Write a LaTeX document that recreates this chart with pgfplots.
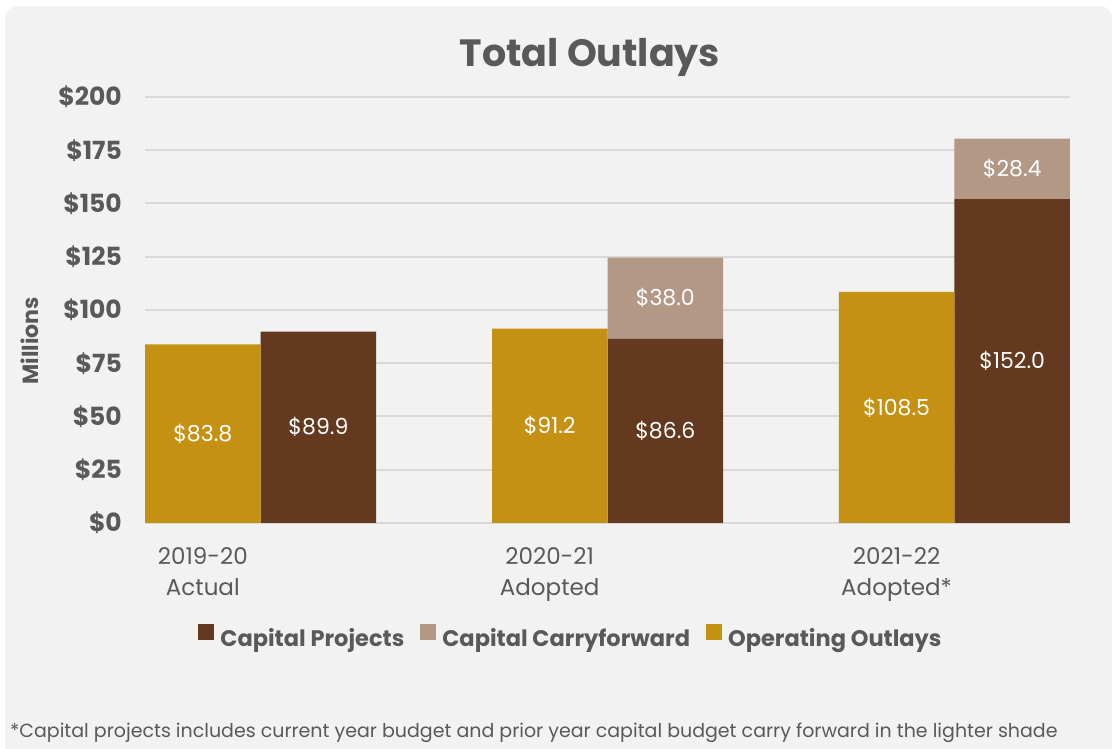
\documentclass[border=0pt]{standalone}
\usepackage{pgfplots}
\pgfplotsset{compat=1.18}
\usepackage{fontspec}
\setmainfont{Poppins}
\definecolor{gold}{HTML}{C59112}
\definecolor{dbrown}{HTML}{633A1F}
\definecolor{lbrown}{HTML}{B39886}
\definecolor{txt}{HTML}{595959}
\definecolor{gridc}{HTML}{D9D9D9}
\definecolor{bgc}{HTML}{F2F2F2}
\pgfplotsset{sqlegend/.style={legend image code/.code={\fill[##1,draw=none] (0pt,-1pt) rectangle (16pt,15pt);}}}
\begin{document}
\begin{tikzpicture}[x=1pt,y=1pt]
\useasboundingbox (0,0) rectangle (1117,749);
\fill[white] (0,0) rectangle (1117,749);
\fill[bgc, rounded corners=12pt] (5,-20) rectangle (1112,743);
\node[font=\fontsize{38}{44}\selectfont\bfseries, text=txt] at (590,692) {Total Outlays};
\node[font=\fontsize{22}{26}\selectfont\bfseries, text=txt, rotate=90] at (30,408) {Millions};
\node[font=\fontsize{19}{22}\selectfont, text=txt, anchor=base west, inner sep=0pt] at (10,11) {*Capital projects includes current year budget and prior year capital budget carry forward in the lighter shade};
\begin{axis}[
  at={(145pt,226pt)}, anchor=south west,
  scale only axis, width=925pt, height=426pt,
  xmin=-0.3333, xmax=2.3333, ymin=0, ymax=200,
  ybar stacked, bar width=115.5pt, bar shift=57.75pt,
  axis line style={draw=none}, major tick length=0pt,
  ymajorgrids, grid style={gridc, line width=2pt},
  ytick={0,25,...,200},
  yticklabel={\$\pgfmathprintnumber{\tick}},
  yticklabel style={font=\fontsize{25}{28}\selectfont\bfseries, text=txt, inner sep=0pt, xshift=-23pt, anchor=east},
  /pgf/number format/assume math mode=true,
  xtick={-0.16667,0.83333,1.83333},
  xticklabels={{2019-20\\Actual},{2020-21\\Adopted},{2021-22\\Adopted*}},
  xticklabel style={font=\fontsize{23}{31}\selectfont, text=txt, align=center, inner sep=0pt, yshift=-24pt, anchor=north},
  legend style={at={(0.4605,-0.2676)}, anchor=center, draw=none, fill=none,
     font=\fontsize{22.5}{26}\selectfont\bfseries, text=txt,
     /tikz/every odd column/.append style={column sep=4pt},
     /tikz/every even column/.append style={column sep=14pt}},
  legend columns=3,
  clip=false,
]
\addplot[fill=dbrown, draw=none, sqlegend] coordinates {(0,89.9) (1,86.6) (2,152.0)};
\addlegendentry{Capital Projects}
\addplot[fill=lbrown, draw=none, sqlegend] coordinates {(0,0) (1,38.0) (2,28.4)};
\addlegendentry{Capital Carryforward}
\addlegendimage{fill=gold, draw=none, sqlegend}
\addlegendentry{Operating Outlays}
\end{axis}
\begin{axis}[
  at={(145pt,226pt)}, anchor=south west,
  scale only axis, width=925pt, height=426pt,
  xmin=-0.3333, xmax=2.3333, ymin=0, ymax=200,
  hide axis,
]
\addplot[ybar, bar width=115.5pt, bar shift=-57.75pt, fill=gold, draw=none] coordinates {(0,83.8) (1,91.2) (2,108.5)};
\addplot[draw=none, mark=none, nodes near coords, point meta=explicit symbolic,
  nodes near coords align=center,
  every node near coord/.append style={font=\fontsize{22}{26}\selectfont, text=white, anchor=center}]
  coordinates {
  (-0.16667,41.9) [\$83.8]
  (0.16667,44.95) [\$89.9]
  (0.83333,45.6) [\$91.2]
  (1.16667,43.3) [\$86.6]
  (1.16667,105.6) [\$38.0]
  (1.83333,54.25) [\$108.5]
  (2.16667,76.0) [\$152.0]
  (2.16667,166.2) [\$28.4]
  };
\end{axis}
\end{tikzpicture}
\end{document}
